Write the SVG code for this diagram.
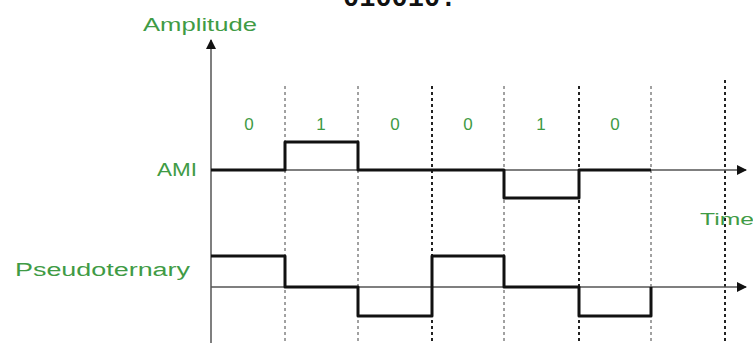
<svg xmlns="http://www.w3.org/2000/svg" width="753" height="343" viewBox="0 0 753 343">
<style>
.lbl{font-family:"Liberation Sans",Arial,sans-serif;fill:#3f9b45}
.axis{stroke:#555;stroke-width:1.5;fill:none}
.grid{stroke:#444;stroke-width:1;stroke-dasharray:3 3;fill:none}
.gridb{stroke:#222;stroke-width:2;stroke-dasharray:3 3;fill:none}
.sig{stroke:#111;stroke-width:3;fill:none;stroke-linejoin:round}
</style>
<defs>
<marker id="ah" markerWidth="10" markerHeight="10" refX="9" refY="5" orient="auto" markerUnits="userSpaceOnUse" viewBox="0 0 10 10">
<path d="M0,0 L10,5 L0,10 Z" fill="#111"/>
</marker>
</defs>
<rect width="753" height="343" fill="#fff"/>
<text x="343" y="6" font-family="'Liberation Mono','Courier New',monospace" font-size="27" fill="#111" font-weight="bold">010010.</text>
<g id="grid">
<line class="grid" x1="285" y1="86" x2="285" y2="343"/>
<line class="grid" x1="358" y1="86" x2="358" y2="343"/>
<line class="gridb" x1="432" y1="86" x2="432" y2="343"/>
<line class="grid" x1="504" y1="86" x2="504" y2="343"/>
<line class="gridb" x1="579" y1="86" x2="579" y2="343"/>
<line class="grid" x1="651" y1="86" x2="651" y2="343"/>
<line class="gridb" x1="725" y1="80" x2="725" y2="343"/>
</g>
<g id="connectors">
<line class="axis" x1="211" y1="343" x2="211" y2="40" marker-end="url(#ah)"/>
<line class="axis" x1="211" y1="170" x2="746" y2="170" marker-end="url(#ah)"/>
<line class="axis" x1="211" y1="287" x2="746" y2="287" marker-end="url(#ah)"/>
</g>
<g id="ami-signal">
<polyline class="sig" points="211,170 285,170 285,142 358,142 358,170 504,170 504,198 579,198 579,170 651,170"/>
</g>
<g id="pseudo-signal">
<polyline class="sig" points="211,256 285,256 285,287 358,287 358,316 432,316 432,256 504,256 504,287 579,287 579,316 651,316 651,287"/>
</g>
<g id="labels">
<text class="lbl" x="143" y="31" font-size="19" textLength="114" lengthAdjust="spacingAndGlyphs">Amplitude</text>
<text class="lbl" x="157" y="176" font-size="18" textLength="40" lengthAdjust="spacingAndGlyphs">AMI</text>
<text class="lbl" x="15" y="276" font-size="18" textLength="175" lengthAdjust="spacingAndGlyphs">Pseudoternary</text>
<text class="lbl" x="700" y="225" font-size="16" textLength="54" lengthAdjust="spacingAndGlyphs">Time</text>
</g>
<g id="bits" class="lbl" font-size="17" text-anchor="middle">
<text x="249" y="130">0</text>
<text x="321" y="130">1</text>
<text x="395" y="130">0</text>
<text x="468" y="130">0</text>
<text x="541" y="130">1</text>
<text x="615" y="130">0</text>
</g>
</svg>
